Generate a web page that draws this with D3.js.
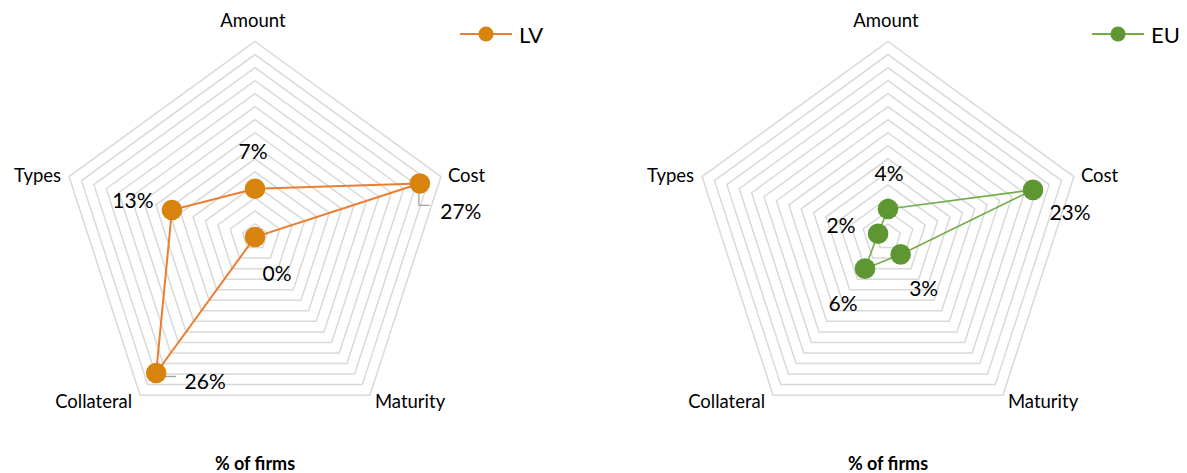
<!DOCTYPE html>
<html>
<head>
<meta charset="utf-8">
<script src="https://cdn.jsdelivr.net/npm/d3@7"></script>
<style>
  body { margin: 0; background: #fff; }
  svg text { font-family: Lato, "Noto Sans", sans-serif; fill: #000; }
</style>
</head>
<body>
<svg width="1187" height="473"></svg>
<script>
// data
const categories = ["Amount", "Cost", "Maturity", "Collateral", "Types"];
const lvValues = [0.074, 0.266, 0.00, 0.258, 0.134];
const euValues = [0.043, 0.234, 0.033, 0.06, 0.016];
const axisMax = 0.30;
const ringStep = 0.02;
const axisTitle = "% of firms";

// layout
const svg = d3.select("svg");
const R = 195.5;
const fmt = d3.format(".0%");

const charts = [
  {
    name: "LV", values: lvValues, cx: 255, cy: 237,
    line: "#ed7d31", marker: "#d9830f", lineWidth: 2,
    legendX: 460,
    // label centre offsets from each point
    labelOff: [[-2, -38], [41, 27], [22, 35], [49, 7], [-39, -11]],
    leaders: { 1: [[-1, 0], [-1, 22], [10, 22]], 3: [[0, 0], [8, 3.5], [20, 3.5]] }
  },
  {
    name: "EU", values: euValues, cx: 888, cy: 237,
    line: "#70ad47", marker: "#5e9732", lineWidth: 1.6,
    legendX: 1092,
    labelOff: [[1, -36], [37, 22], [23, 33], [-22, 34], [-37, -9]],
    leaders: {}
  }
];

const r = d3.scaleLinear().domain([0, axisMax]).range([0, R]);
const angle = d3.scalePoint().domain(categories).range([0, 2 * Math.PI * 4 / 5]);

const pos = (cat, v) => [r(v) * Math.sin(angle(cat)), -r(v) * Math.cos(angle(cat))];

// axis label offsets from outer vertex: [dx, dy, anchor]
const catLabel = {
  Amount: [-2, -22, "middle"],
  Cost: [7, -2, "start"],
  Maturity: [5, 6, "start"],
  Collateral: [-8, 6, "end"],
  Types: [-8, -2, "end"]
};

const radial = d3.lineRadial()
  .angle((d) => angle(d.cat))
  .radius((d) => r(d.v))
  .curve(d3.curveLinearClosed);

charts.forEach((c) => {
  const g = svg.append("g").attr("transform", `translate(${c.cx},${c.cy})`);

  // grid rings
  const rings = d3.range(1, Math.round(axisMax / ringStep) + 1).map((k) => k * ringStep);
  g.selectAll("path.ring")
    .data(rings)
    .enter().append("path")
      .attr("class", "ring")
      .attr("d", (t) => radial(categories.map((cat) => ({ cat, v: t }))))
      .attr("fill", "none")
      .attr("stroke", "#d9d9d9")
      .attr("stroke-width", 1.5);

  // category labels
  g.selectAll("text.cat")
    .data(categories)
    .enter().append("text")
      .attr("class", "cat")
      .attr("x", (d) => pos(d, axisMax)[0] + catLabel[d][0])
      .attr("y", (d) => pos(d, axisMax)[1] + catLabel[d][1])
      .attr("text-anchor", (d) => catLabel[d][2])
      .attr("dominant-baseline", "central")
      .style("font-size", "18.5px")
      .text((d) => d);

  const pts = categories.map((cat, i) => ({ cat, v: c.values[i], i }));

  // leader lines
  Object.keys(c.leaders).forEach((k) => {
    const p = pos(categories[k], c.values[k]);
    g.append("polyline")
      .attr("points", c.leaders[k].map((q) => `${p[0] + q[0]},${p[1] + q[1]}`).join(" "))
      .attr("fill", "none")
      .attr("stroke", "#a6a6a6")
      .attr("stroke-width", 1.3);
  });

  // series
  g.append("path")
    .attr("d", radial(pts))
    .attr("fill", "none")
    .attr("stroke", c.line)
    .attr("stroke-width", c.lineWidth);

  g.selectAll("circle.pt")
    .data(pts)
    .enter().append("circle")
      .attr("class", "pt")
      .attr("cx", (d) => pos(d.cat, d.v)[0])
      .attr("cy", (d) => pos(d.cat, d.v)[1])
      .attr("r", 10.3)
      .attr("fill", c.marker);

  // data labels
  g.selectAll("text.val")
    .data(pts)
    .enter().append("text")
      .attr("class", "val")
      .attr("x", (d) => pos(d.cat, d.v)[0] + c.labelOff[d.i][0])
      .attr("y", (d) => pos(d.cat, d.v)[1] + c.labelOff[d.i][1])
      .attr("text-anchor", "middle")
      .attr("dominant-baseline", "central")
      .style("font-size", "21px")
      .text((d) => fmt(d.v));

  // axis title
  svg.append("text")
    .attr("x", c.cx)
    .attr("y", 463)
    .attr("text-anchor", "middle")
    .attr("dominant-baseline", "central")
    .style("font-size", "18px")
    .style("font-weight", "bold")
    .text(axisTitle);

  // legend
  const lg = svg.append("g").attr("transform", `translate(${c.legendX},34)`);
  lg.append("line")
    .attr("x1", 0).attr("x2", 52)
    .attr("stroke", c.line)
    .attr("stroke-width", 2);
  lg.append("circle")
    .attr("cx", 26)
    .attr("r", 7.6)
    .attr("fill", c.marker);
  lg.append("text")
    .attr("x", 59)
    .attr("dominant-baseline", "central")
    .style("font-size", "22px")
    .text(c.name);
});
</script>
</body>
</html>
